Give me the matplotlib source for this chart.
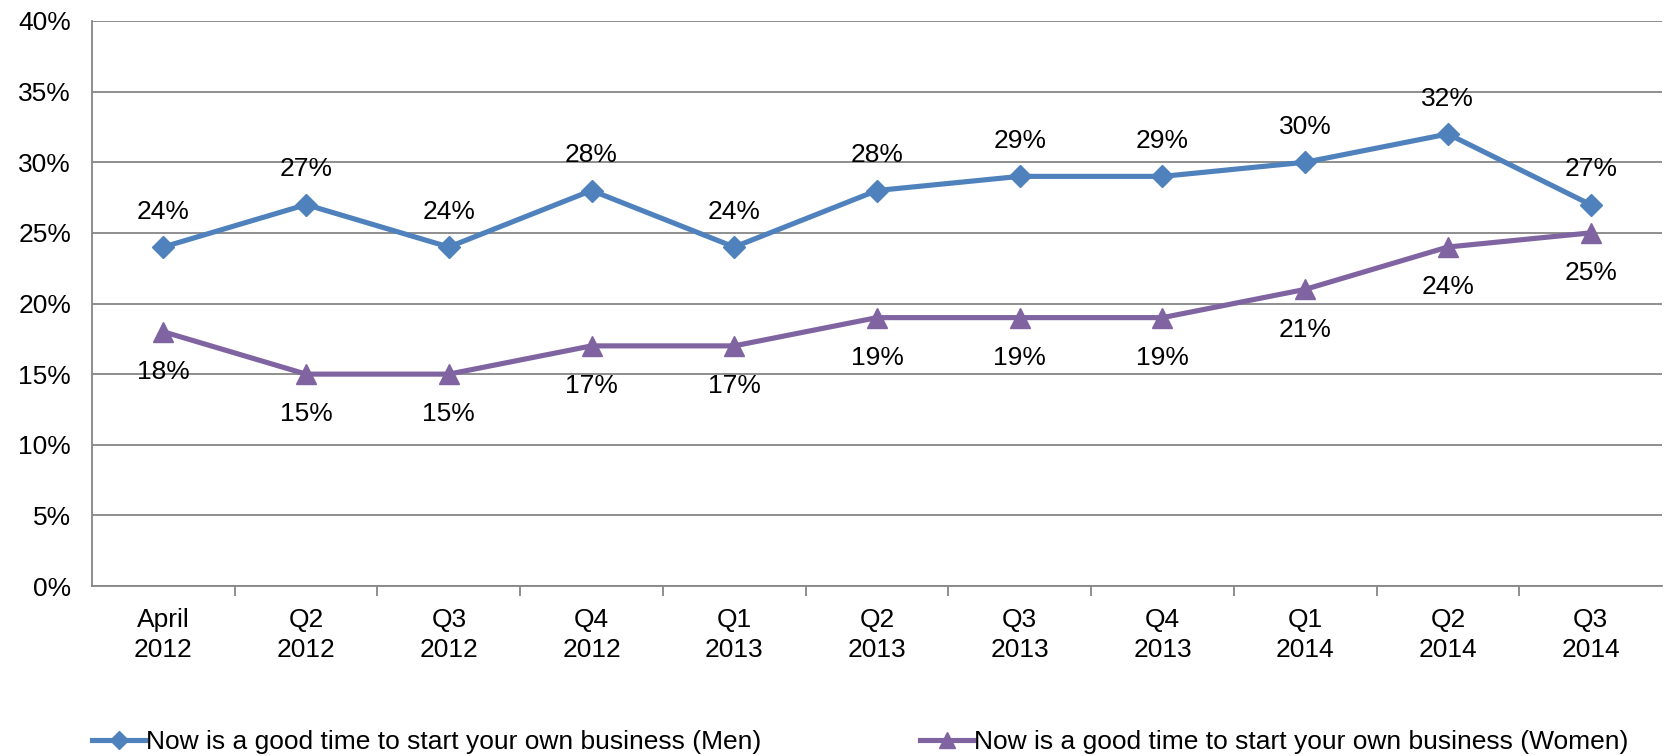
import matplotlib
matplotlib.use("Agg")
import matplotlib.pyplot as plt
from matplotlib.lines import Line2D

plt.rcParams['font.family'] = ['Liberation Sans', 'DejaVu Sans']

categories = ["April\n2012", "Q2\n2012", "Q3\n2012", "Q4\n2012", "Q1\n2013", "Q2\n2013",
              "Q3\n2013", "Q4\n2013", "Q1\n2014", "Q2\n2014", "Q3\n2014"]
men = [24, 27, 24, 28, 24, 28, 29, 29, 30, 32, 27]
women = [18, 15, 15, 17, 17, 19, 19, 19, 21, 24, 25]
men_label = "Now is a good time to start your own business (Men)"
women_label = "Now is a good time to start your own business (Women)"

blue = "#4F81BD"
purple = "#8064A2"
grid = "#868686"
fs = 19

fig = plt.figure(figsize=(16.67, 7.56), dpi=100)
ax = fig.add_axes([92/1667, 1-586/756, (1662-92)/1667, (586-21)/756])

x = list(range(len(categories)))
ax.plot(x, men, color=blue, lw=3.7, marker='D', ms=11, zorder=3)
ax.plot(x, women, color=purple, lw=3.7, marker='^', ms=15, zorder=3)

for xi, v in zip(x, men):
    ax.annotate(f"{v}%", (xi, v), xytext=(0, 25.5), textcoords='offset points',
                ha='center', va='center', fontsize=fs)
for xi, v in zip(x, women):
    ax.annotate(f"{v}%", (xi, v), xytext=(0, -29), textcoords='offset points',
                ha='center', va='center', fontsize=fs)

ax.set_xlim(-0.5, len(categories) - 0.5)
ax.set_ylim(0, 40)
ax.set_yticks(range(0, 41, 5))
ax.set_yticklabels([f"{t}%" for t in range(0, 41, 5)], fontsize=fs)
ax.yaxis.grid(True, color=grid, lw=1.3)
ax.set_axisbelow(True)
ax.tick_params(axis='y', length=0, pad=15)

ax.set_xticks(x)
ax.set_xticklabels(categories, fontsize=fs, linespacing=1.3)
ax.tick_params(axis='x', length=0, pad=16)
ax.set_xticks([i + 0.5 for i in range(len(categories) - 1)], minor=True)
ax.tick_params(axis='x', which='minor', length=7, width=1.3, color=grid, direction='out')

for s in ['top', 'right']:
    ax.spines[s].set_visible(False)
for s in ['left', 'bottom']:
    ax.spines[s].set_color(grid)
    ax.spines[s].set_linewidth(1.3)

h1 = Line2D([], [], color=blue, lw=3.7, marker='D', ms=9)
h2 = Line2D([], [], color=purple, lw=3.7, marker='^', ms=12)
fig.legend([h1], [men_label], loc='center left', bbox_to_anchor=(79/1667, 1-742/756),
           frameon=False, fontsize=fs, handlelength=2.0, handletextpad=0.05, borderpad=0)
fig.legend([h2], [women_label], loc='center left', bbox_to_anchor=(907/1667, 1-742/756),
           frameon=False, fontsize=fs, handlelength=2.0, handletextpad=0.05, borderpad=0)

fig.savefig("out.png", dpi=100)
